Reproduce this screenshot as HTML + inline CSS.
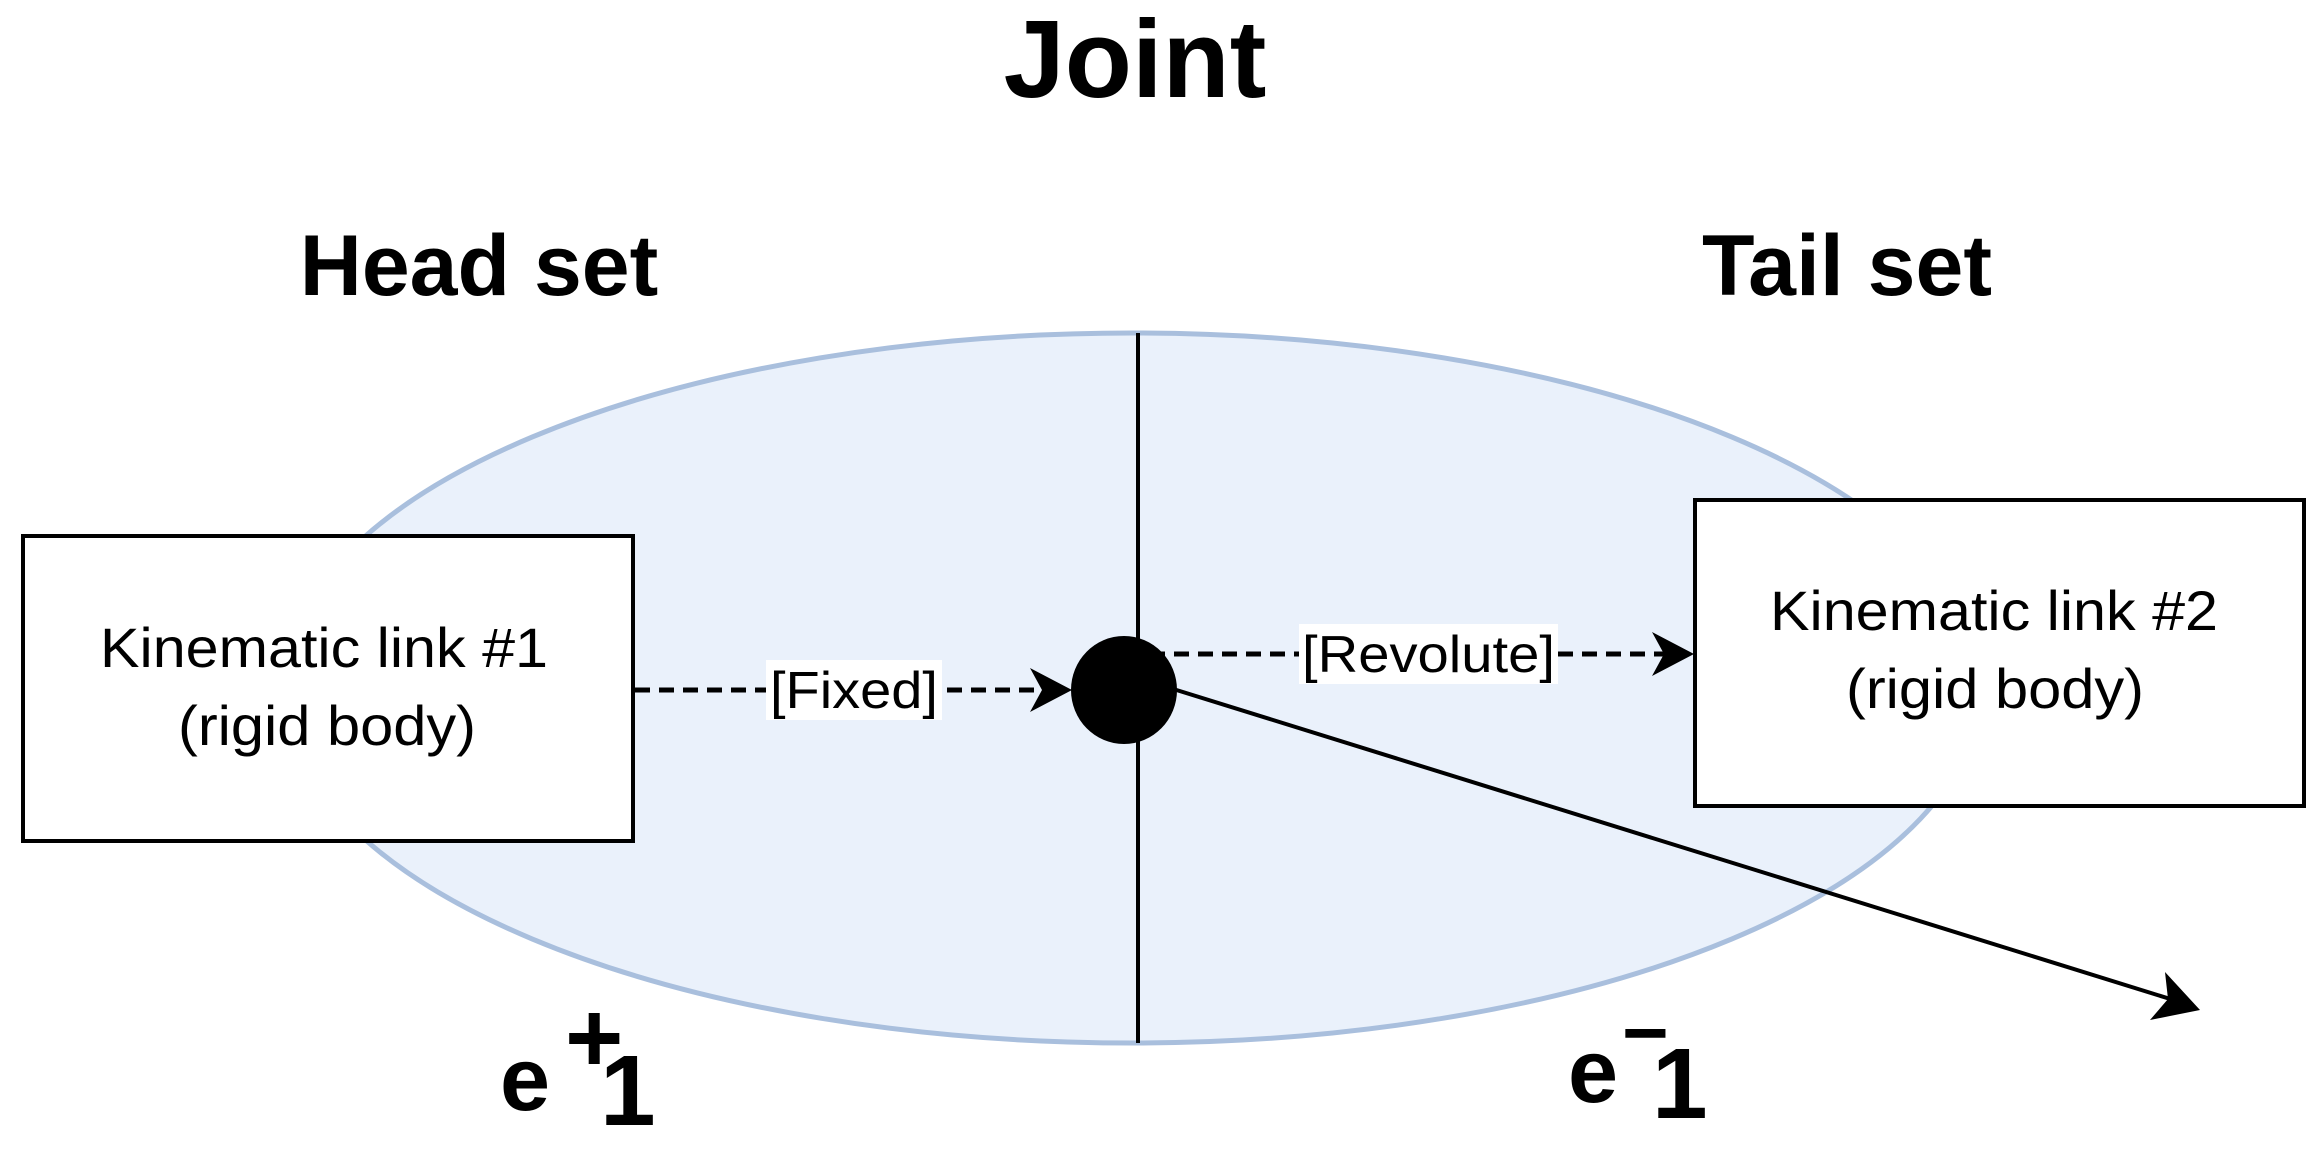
<!DOCTYPE html>
<html><head><meta charset="utf-8"><style>
html,body{margin:0;padding:0;background:#fff;}
svg{display:block;}
</style></head><body>
<svg width="2313" height="1150" viewBox="0 0 2313 1150" xmlns="http://www.w3.org/2000/svg" font-family="Liberation Sans, Arial, sans-serif">
<ellipse cx="1132" cy="688" rx="848" ry="355" fill="#eaf1fb" stroke="#a9bfdd" stroke-width="5"/>
<line x1="1138" y1="333" x2="1138" y2="1043" stroke="#000" stroke-width="4"/>
<text x="1135" y="97" font-size="110" font-weight="bold" text-anchor="middle">Joint</text>
<text x="479" y="295" font-size="86" font-weight="bold" text-anchor="middle">Head set</text>
<text x="1847" y="295" font-size="86" font-weight="bold" text-anchor="middle">Tail set</text>
<rect x="23" y="536" width="610" height="305" fill="#fff" stroke="#000" stroke-width="4"/>
<text x="100" y="667" font-size="56" textLength="448" lengthAdjust="spacingAndGlyphs">Kinematic link #1</text>
<text x="178" y="745" font-size="56" textLength="298" lengthAdjust="spacingAndGlyphs">(rigid body)</text>
<rect x="1695" y="500" width="609" height="306" fill="#fff" stroke="#000" stroke-width="4"/>
<text x="1770" y="630" font-size="56" textLength="448" lengthAdjust="spacingAndGlyphs">Kinematic link #2</text>
<text x="1846" y="708" font-size="56" textLength="298" lengthAdjust="spacingAndGlyphs">(rigid body)</text>
<line x1="635" y1="690" x2="1050" y2="690" stroke="#000" stroke-width="5" stroke-dasharray="15,9"/>
<polygon points="1072,690 1030,668 1042,690 1030,712" fill="#000"/>
<rect x="766" y="660" width="176" height="60" fill="#fff"/>
<text x="770" y="708" font-size="52" textLength="168" lengthAdjust="spacingAndGlyphs">[Fixed]</text>
<line x1="1150" y1="654" x2="1672" y2="654" stroke="#000" stroke-width="5" stroke-dasharray="15,9"/>
<polygon points="1694,654 1652,632 1664,654 1652,676" fill="#000"/>
<rect x="1299" y="624" width="259" height="60" fill="#fff"/>
<text x="1302" y="672" font-size="52" textLength="253" lengthAdjust="spacingAndGlyphs">[Revolute]</text>
<line x1="1170" y1="688" x2="2180" y2="1002" stroke="#000" stroke-width="4"/>
<polygon points="2200,1010 2150,1020 2168,999 2165,972" fill="#000"/>
<ellipse cx="1124" cy="690" rx="53" ry="54" fill="#000"/>
<text x="500" y="1110" font-size="90" font-weight="bold">e</text>
<text x="565" y="1072" font-size="100" font-weight="bold">+</text>
<text x="600" y="1125" font-size="100" font-weight="bold">1</text>
<text x="1568" y="1102" font-size="90" font-weight="bold">e</text>
<text x="1622" y="1060" font-size="80" font-weight="bold">−</text>
<text x="1652" y="1118" font-size="100" font-weight="bold">1</text>
</svg>
</body></html>
